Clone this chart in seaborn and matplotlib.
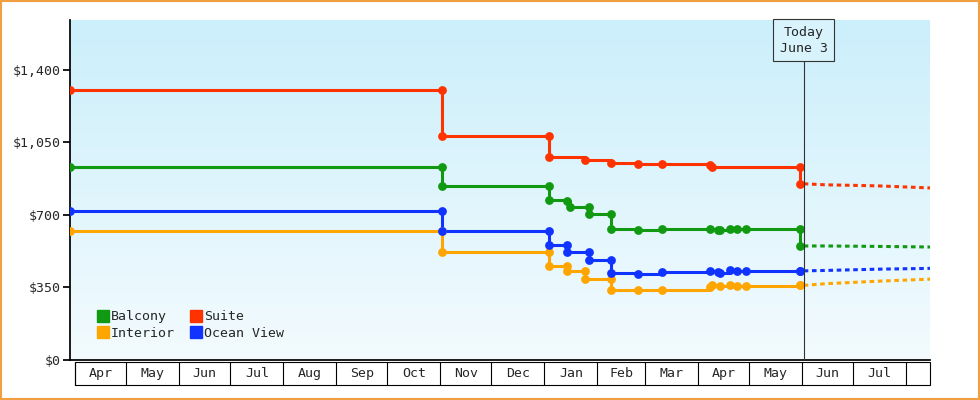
import numpy as np
import matplotlib
matplotlib.use("Agg")
import matplotlib.pyplot as plt
import seaborn as sns
import pandas as pd
from matplotlib.transforms import blended_transform_factory
from matplotlib.patches import Rectangle
from matplotlib.colors import LinearSegmentedColormap
from matplotlib.lines import Line2D

sns.set_theme(style="white")
plt.rcParams['font.family'] = ['DejaVu Sans Mono']

# days since Apr 1
suite_days = [-3, 215, 215, 278, 278, 299, 314, 330, 344, 372, 373, 425, 425]
suite_vals = [1300, 1300, 1080, 1080, 980, 965, 950, 945, 945, 940, 930, 930, 850]
balcony_days = [-3, 215, 215, 278, 278, 288, 290, 301, 301, 314, 314, 330, 344, 372, 377, 378, 384, 388, 393, 425, 425]
balcony_vals = [930, 930, 840, 840, 772, 765, 740, 740, 705, 705, 630, 625, 630, 630, 625, 625, 630, 630, 630, 630, 550]
ocean_days = [-3, 215, 215, 278, 278, 288, 288, 301, 301, 314, 314, 330, 344, 372, 377, 378, 384, 388, 393, 425, 425]
ocean_vals = [720, 720, 620, 620, 555, 555, 520, 520, 483, 483, 420, 415, 425, 430, 425, 420, 435, 430, 430, 430, 430]
interior_days = [-3, 215, 215, 278, 278, 288, 288, 299, 299, 314, 314, 330, 344, 372, 373, 378, 384, 388, 393, 425, 425]
interior_vals = [620, 620, 520, 520, 454, 454, 430, 430, 390, 390, 340, 340, 338, 350, 360, 355, 360, 355, 355, 360, 360]
forecast_days = [427, 440, 470, 501]
forecast = {
    "Suite": [850, 845, 840, 830],
    "Balcony": [550, 550, 548, 545],
    "Ocean View": [430, 432, 438, 442],
    "Interior": [360, 368, 380, 390],
}
months = ["Apr", "May", "Jun", "Jul", "Aug", "Sep", "Oct", "Nov", "Dec", "Jan", "Feb", "Mar", "Apr", "May", "Jun", "Jul"]
month_starts = [0, 30, 61, 91, 122, 153, 183, 214, 244, 275, 306, 334, 365, 395, 426, 456, 487]
yticks = [0, 350, 700, 1050, 1400]

colors = {"Balcony": "#119911", "Suite": "#ff3300", "Interior": "#ffa500", "Ocean View": "#1133ff"}
series = {"Suite": (suite_days, suite_vals), "Balcony": (balcony_days, balcony_vals),
          "Ocean View": (ocean_days, ocean_vals), "Interior": (interior_days, interior_vals)}

fig = plt.figure(figsize=(9.8, 4), dpi=100)
fig.patch.set_facecolor("white")
ax = fig.add_axes([70/980, 0.1, 860/980, 0.85])
xmin, xmax, ymin, ymax = -3, 501, 0, 1640
grad = np.linspace(0, 1, 256).reshape(-1, 1)
cm = LinearSegmentedColormap.from_list("g", ["#cbeffb", "#f3fbfe"])
ax.imshow(grad, extent=[xmin, xmax, ymin, ymax], aspect="auto", cmap=cm, origin="upper", zorder=0)

for name in ["Interior", "Ocean View", "Balcony", "Suite"]:
    d, v = series[name]
    df = pd.DataFrame({"day": d, "price": v})
    sns.lineplot(data=df, x="day", y="price", drawstyle="steps-post", color=colors[name], lw=2.2, ax=ax, zorder=3, estimator=None, sort=False)
    ax.scatter(d, v, color=colors[name], s=40, marker="o", zorder=4, lw=0)
    fd = pd.DataFrame({"day": forecast_days, "price": forecast[name]})
    sns.lineplot(data=fd, x="day", y="price", color=colors[name], lw=2.2, ls=(0, (1.5, 1.2)), ax=ax, zorder=3, estimator=None)

ax.set_xlim(xmin, xmax)
ax.set_ylim(ymin, ymax)
ax.set_yticks(yticks)
ax.set_yticklabels([f"${v:,}" for v in yticks], fontsize=9.5)
ax.set_xticks([])
ax.set_xlabel(""); ax.set_ylabel("")
for s in ["top", "right"]:
    ax.spines[s].set_visible(False)
ax.spines["left"].set_color("black")
ax.spines["bottom"].set_color("black")
ax.tick_params(axis="y", length=5, color="black", left=True, pad=2)

# month boxes
tr = blended_transform_factory(ax.transData, ax.transAxes)
ax.add_patch(Rectangle((month_starts[0], -0.074), xmax - month_starts[0], 0.068, transform=tr,
                       fill=False, ec="black", lw=0.8, clip_on=False))
for i, m in enumerate(months):
    ax.plot([month_starts[i]] * 2, [-0.074, -0.006], transform=tr, color="black", lw=0.8, clip_on=False)
    ax.text((month_starts[i] + month_starts[i + 1]) / 2, -0.04, m, transform=tr, ha="center", va="center", fontsize=9.5)
ax.plot([month_starts[-1]] * 2, [-0.074, -0.006], transform=tr, color="black", lw=0.8, clip_on=False)

# today line
ax.axvline(427, color="#333333", lw=0.8, zorder=5)
ax.text(427, 0.94, "Today\nJune 3", transform=tr, ha="center", va="center", fontsize=9.5,
        bbox=dict(boxstyle="square,pad=0.5", fc="#d8f3fc", ec="#333333", lw=0.8), zorder=6, linespacing=1.3)

# legend
handles = [Line2D([], [], marker="s", ls="", color=colors[n], markersize=8) for n in ["Balcony", "Interior", "Suite", "Ocean View"]]
ax.legend(handles, ["Balcony", "Interior", "Suite", "Ocean View"], ncol=2, loc="lower left",
          bbox_to_anchor=(0.015, 0.025), frameon=False, fontsize=9.5, handletextpad=0.0,
          columnspacing=1.0, labelspacing=0.25, handlelength=1.2)

fig.add_artist(Rectangle((0.001, 0.002), 0.998, 0.996, transform=fig.transFigure, fill=False, ec="#f0a040", lw=1.5))
fig.savefig("out.png", dpi=100)
